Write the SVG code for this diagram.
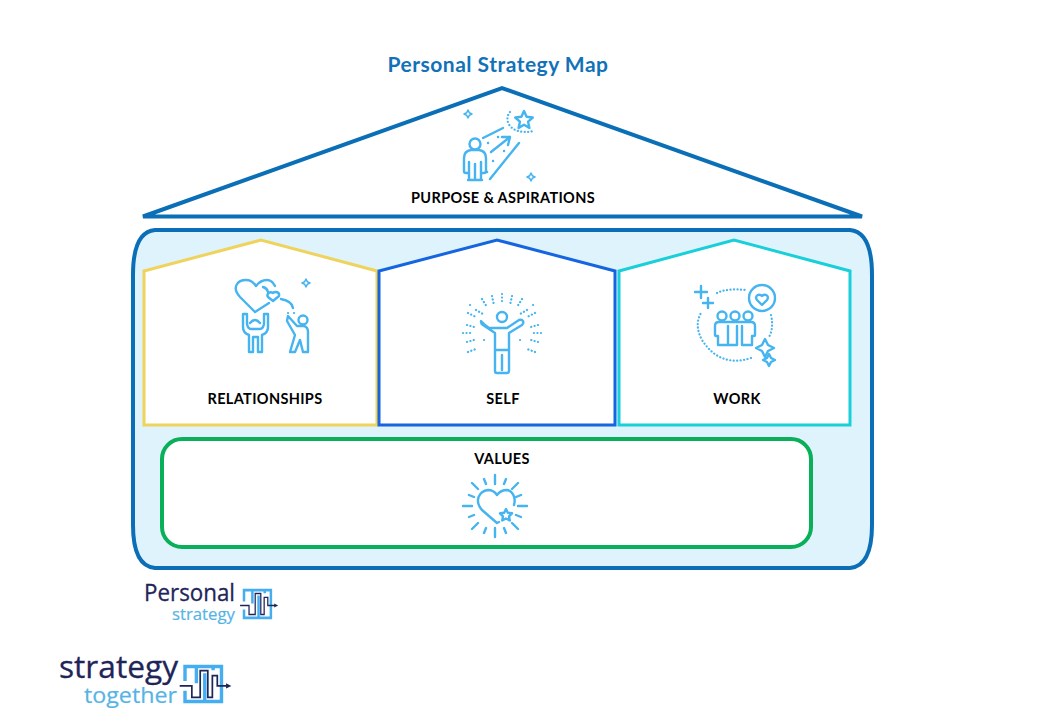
<svg xmlns="http://www.w3.org/2000/svg" width="1040" height="720" viewBox="0 0 1040 720">
<style>
.lbl{font-family:"Lato","Liberation Sans",sans-serif;font-weight:700;font-size:14.5px;fill:#000;text-anchor:middle;letter-spacing:.35px}
.ttl{font-family:"Lato","Liberation Sans",sans-serif;font-weight:700;font-size:21px;fill:#1272b8;text-anchor:middle;letter-spacing:.5px}
.ic{fill:none;stroke:#45b4f0;stroke-width:2.4;stroke-linecap:round;stroke-linejoin:round}
.dot{fill:none;stroke:#45b4f0;stroke-width:2.2;stroke-linecap:round;stroke-dasharray:.1 3.4}
.thin{stroke-width:1.5}
.dk{font-family:"Open Sans","Liberation Sans",sans-serif;font-weight:400;fill:#1e2558;stroke:#1e2558;stroke-width:.3}
.lt{font-family:"Open Sans","Liberation Sans",sans-serif;font-weight:400;fill:#55b4e6;stroke:#55b4e6;stroke-width:.2}
</style>
<defs>
<g id="mark">
<path d="M0,42V4H96V96H0V68M30,4V48M52,22V96M74,4V14" fill="none" stroke="#45aef0" stroke-width="9"/>
<path d="M-14,55H18V85H40V15H60V85H72V28H85V55H112" fill="none" stroke="#1e2558" stroke-width="4.500"/>
<path d="M108,48L122,55L108,62Z" fill="#1e2558"/>
</g>
<path id="sparkle" d="M0,-4L1.300,-1.300L4,0L1.300,1.300L0,4L-1.300,1.300L-4,0L-1.300,-1.300Z" class="ic thin"/>
</defs>

<g id="purpose">
<path d="M143,216.500L502,88L862,216.500Z" fill="#fff" stroke="#0b6fb8" stroke-width="4" stroke-linejoin="miter"/>
<text class="ttl" x="498" y="71.500">Personal Strategy Map</text>
<text class="lbl" x="503" y="203">PURPOSE &amp; ASPIRATIONS</text>
<g id="icon-purpose">
<path class="ic" d="M524,111l2.600,5.800 6.200.7-4.700,4.200 1.300,6.200-5.400-3.200-5.400,3.200 1.300-6.200-4.700-4.200 6.200-.7Z"/>
<path class="dot" d="M510,112C503,120 510,136 534,131"/>
<circle class="ic" cx="475" cy="144" r="5.500"/>
<path class="ic" d="M469,180V162M481,180V162M475,180V164M468,173h-2q-2,0-2-2v-13q0-7 7-8h8q7,1 7,8v13q0,2-2,2h-2M468,180h14"/>
<path class="ic" d="M483,138L503,128M491,152L510,137M502,137L510,137L508,145M490,179L519,143"/>
<path class="ic" d="M488,143h.1M498,137h.1M504,151h.1M493,161h.1M487,172h.1"/>
<use href="#sparkle" x="468" y="114"/>
<use href="#sparkle" x="531" y="177"/>
</g>
</g>

<g id="outer">
<path d="M155,230H850Q872,232 872,275V525Q872,566 850,568H155Q133,566 133,525V275Q133,232 155,230Z" fill="#dff3fc" stroke="#0b6fb8" stroke-width="4"/>
</g>

<g id="relationships">
<path d="M144,271L261,240L377,271V425H144Z" fill="#fff" stroke="#efd35c" stroke-width="3"/>
<text class="lbl" x="265" y="404">RELATIONSHIPS</text>
<g id="icon-relationships">
<path class="ic" d="M255,312L240,297C231,287 238,280 246,280C251,280 254,283 256,286C259,282 263,280 267,280C271,280 273,282 275,286M269,303L255,312"/>
<path class="ic" d="M273,301l-5-4c-2-3 2-6 5-4c2-2 7-1 6,3Z"/>
<path class="ic" d="M263,287q4,1 5,5M281,299q11,2 12,9"/>
<path class="dot" d="M288,313h.1M294,313h.1"/>
<path class="ic" d="M243,314h4v10q1,5 4,5h9q3,0 4-5v-10h4v13q0,6-6,8v17h-4v-15h-5v15h-4v-17q-6-2-6-8Z"/>
<path class="ic" d="M250,323q5-6 10,0"/>
<circle class="ic" cx="303" cy="320" r="4.500"/>
<path class="ic" d="M288,316l9,10h7q4,1 4,6v20h-5l-3-12-5,12h-5l5-17-8-14Z"/>
<use href="#sparkle" x="306" y="283"/>
</g>
</g>

<g id="self">
<path d="M379,271L497,240L615,271V425H379Z" fill="#fff" stroke="#1565e0" stroke-width="3"/>
<text class="lbl" x="503" y="404">SELF</text>
<g id="icon-self">
<circle class="ic" cx="502" cy="317" r="5"/>
<path class="ic" d="M481,321q0,3 2,4l12,8v17h14v-17l13-8q2-2 1-4t-4-1l-12,8h-18l-4-3q-3-3-4-4ZM495,350v21q0,2 2,2h10q2,0 2-2v-21M502,355v15"/>
<path class="dot" d="M502,294v10M492,296l2,9M512,296l-2,9M482,299l5,8M522,299l-5,8M476,310l7,4M527,310l-7,4M468,313l8,4M535,313l-8,4M467,325l7,2M538,325l-7,2M463,333h9M541,333h-9M467,342l7-2M538,342l-7-2M468,352l8-3M535,352l-8-3M470,305h.1M533,305h.1M484,340h.1M520,340h.1"/>
</g>
</g>

<g id="work">
<path d="M619,271L734,240L850,271V425H619Z" fill="#fff" stroke="#19cfd9" stroke-width="3"/>
<text class="lbl" x="737" y="404">WORK</text>
<g id="icon-work">
<circle class="ic" cx="762" cy="298" r="13"/>
<path class="ic" d="M762,305l-5-5c-3-4 2-7 5-4c3-3 8,0 5,4Z"/>
<path class="ic" d="M701,286v12M695,292h12M708,298v10M703,303h10"/>
<path class="dot" d="M717,293Q727,288 746,290M771,315Q774,328 769,337M751,358Q720,368 702,340Q694,325 701,313"/>
<circle class="ic" cx="722" cy="316" r="4.500"/>
<circle class="ic" cx="735" cy="316" r="4.500"/>
<circle class="ic" cx="748" cy="316" r="4.500"/>
<path class="ic" d="M715,335v-9q0-4 4-4h32q4,0 4,4v9q0,1-1,1h-2v9h-10v-9M715,335q0,1 1,1h2v9h10v-9M728,326v19h9v-19M742,336v-10"/>
<path class="ic" d="M765,339l3,6 6,3-6,3-3,6-3-6-6-3 6-3Z"/>
<path class="ic" d="M769,354l2,4 4,2-4,2-2,4-2-4-4-2 4-2Z"/>
</g>
</g>

<g id="values">
<rect x="162" y="439" width="649" height="108" rx="20" fill="#fff" stroke="#0aaf5a" stroke-width="4"/>
<text class="lbl" x="502" y="464">VALUES</text>
<g id="icon-values">
<path class="ic" d="M497,523L482,510C474,501 479,491 488,490C492,490 495,492 497,495C500,491 504,490 507,490C513,491 516,498 514,505M499,522L497,523"/>
<path class="ic" d="M506,509l1.800,3.800 4.200.5-3,3 .8,4.200-3.800-2-3.800,2 .8-4.200-3-3 4.200-.5Z"/>
<path class="ic" d="M495,475v9M495,528v9M463,506h9M518,506h9M472,483l6,6M518,483l-6,6M472,529l6-6M518,529l-6-6M484,479l2,5M506,479l-2,5M484,533l2-5M506,533l-2-5M469,495l5,2M521,495l-5,2M469,517l5-2M521,517l-5-2"/>
</g>
</g>

<g id="logo-personal">
<text class="dk" x="144" y="601" font-size="24" textLength="91" lengthAdjust="spacingAndGlyphs">Personal</text>
<text class="lt" x="172" y="620" font-size="16" textLength="63" lengthAdjust="spacingAndGlyphs">strategy</text>
<use href="#mark" transform="translate(244,589) scale(.28,.3)"/>
</g>
<g id="logo-together">
<text class="dk" x="59" y="678" font-size="31" textLength="119" lengthAdjust="spacingAndGlyphs">strategy</text>
<text class="lt" x="84" y="703" font-size="22" textLength="93" lengthAdjust="spacingAndGlyphs">together</text>
<use href="#mark" transform="translate(185,665) scale(.38,.38)"/>
</g>
</svg>
